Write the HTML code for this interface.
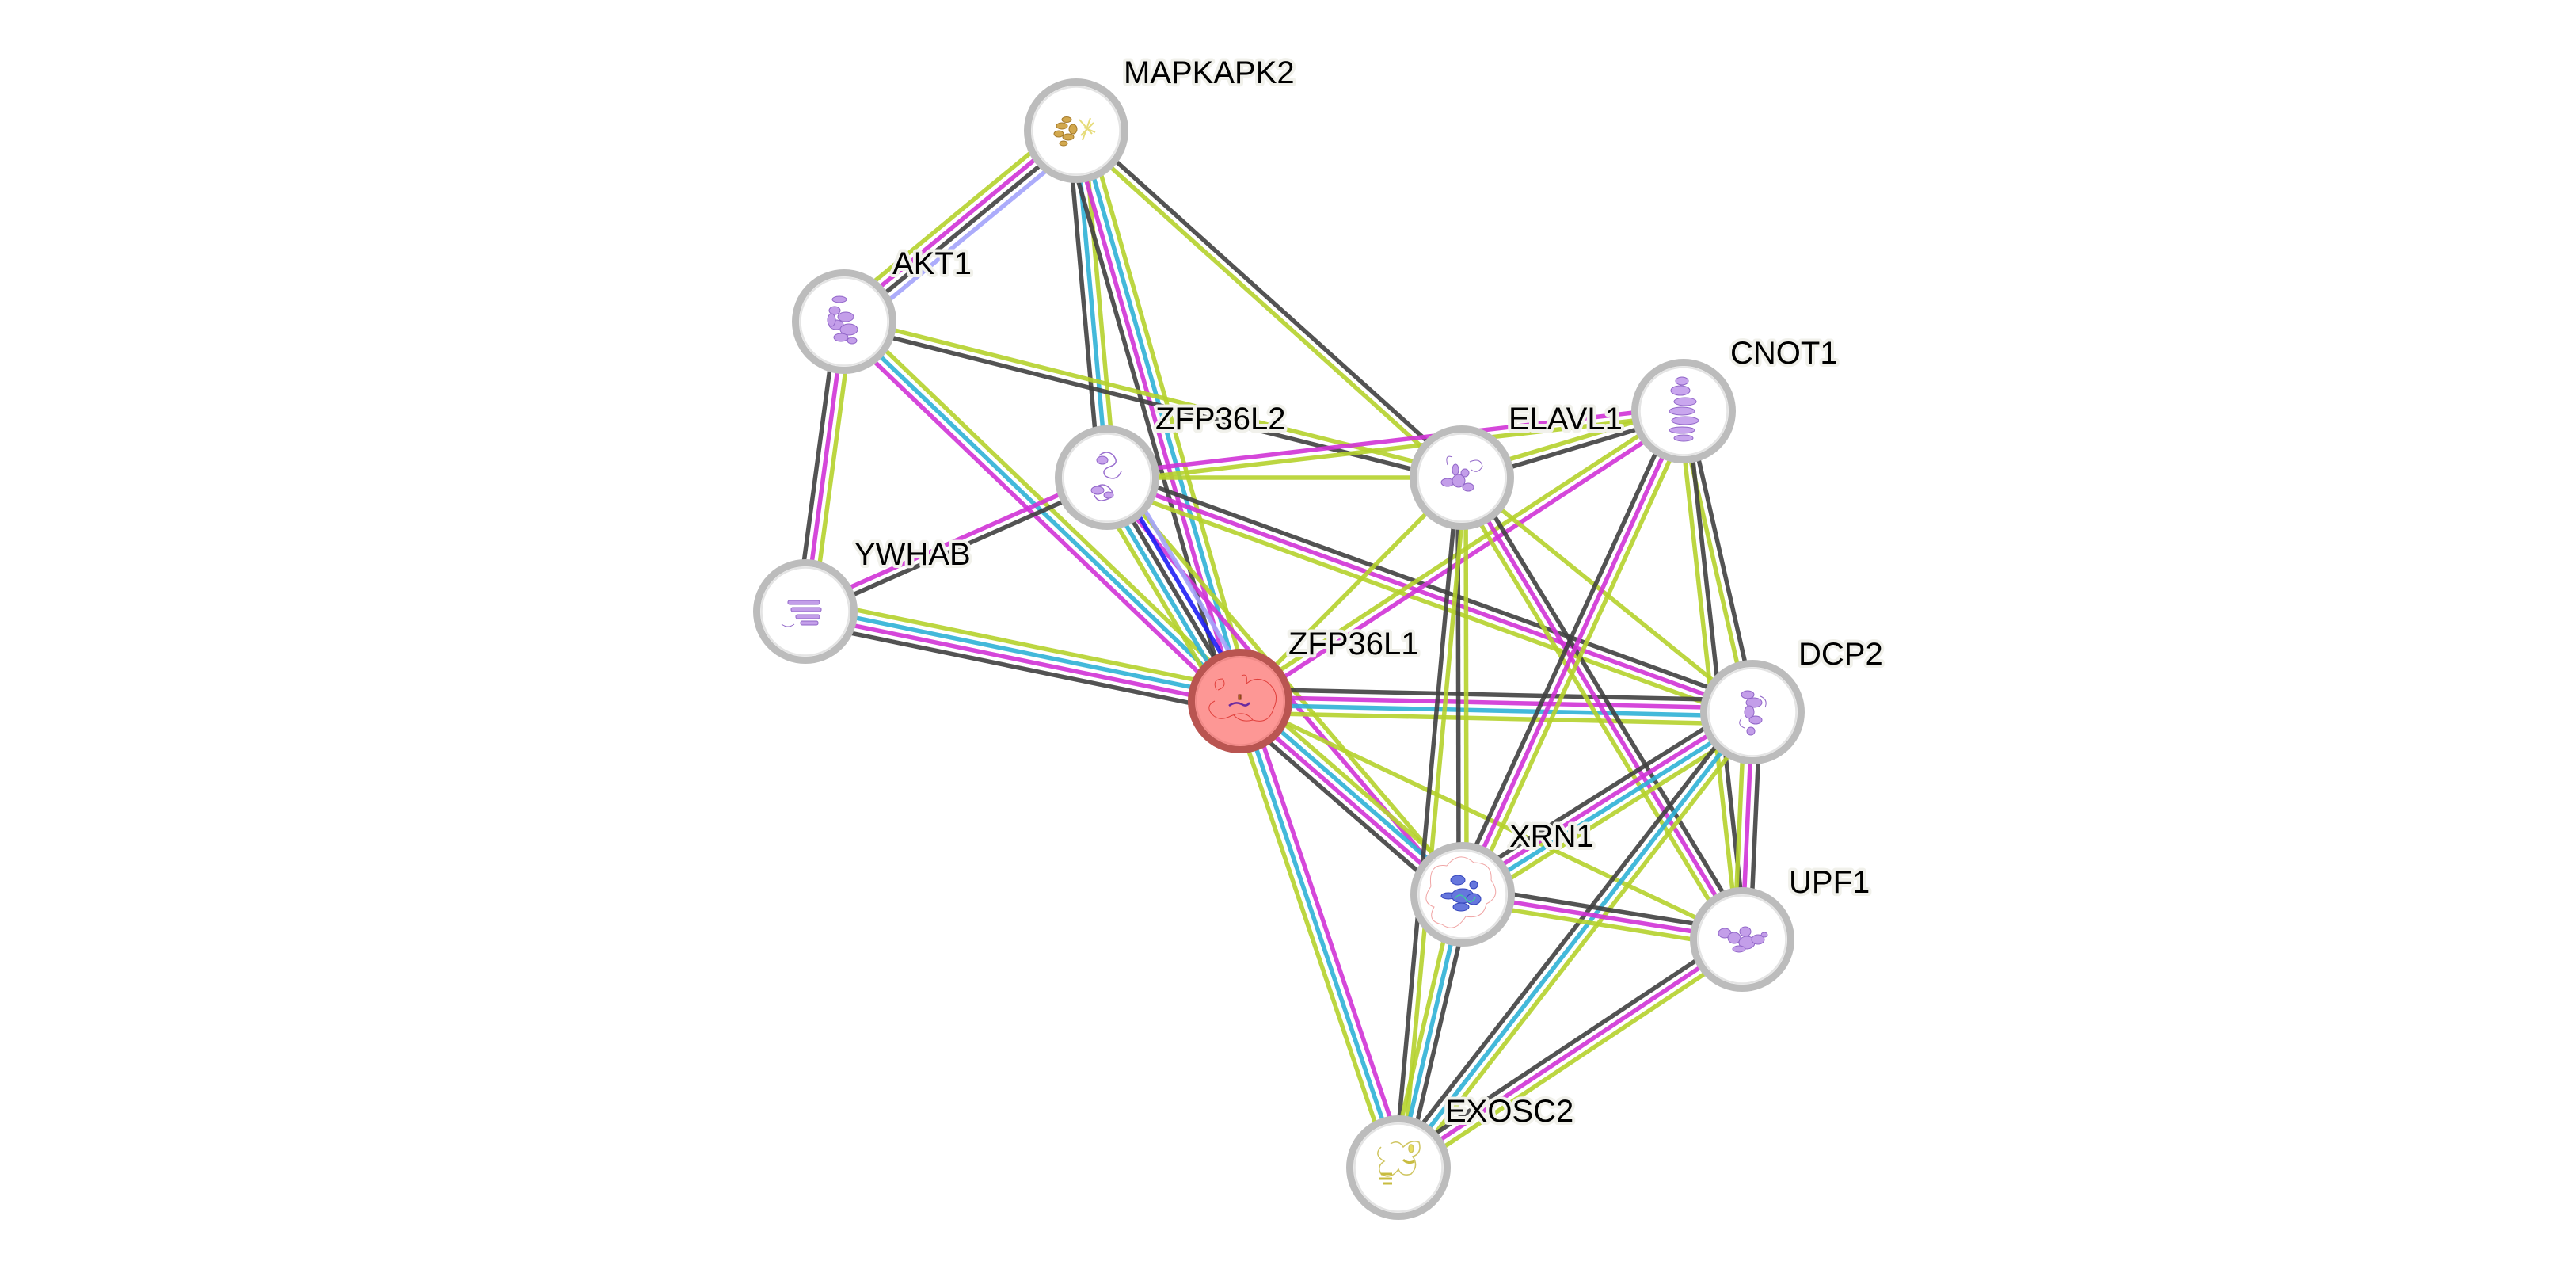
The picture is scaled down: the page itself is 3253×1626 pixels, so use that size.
<!DOCTYPE html>
<html>
<head>
<meta charset="utf-8">
<style>
html,body{margin:0;padding:0;background:#fff;}
svg{display:block;}
.edges path{fill:none;stroke-width:5.5;stroke-opacity:0.9;}
.yg{stroke:#b5d12c;}
.mg{stroke:#d033d6;}
.cy{stroke:#2fb1d6;}
.bk{stroke:#404040;}
.bl{stroke:#1f1ff5;}
.lv{stroke:#a3a3fb;}
.ring{fill:#fff;stroke:#bcbcbc;stroke-width:9;}
.inner{fill:none;stroke:#e4e4e4;stroke-width:2.5;}
.lbl{font-family:"Liberation Sans",Arial,sans-serif;font-size:40px;fill:#000;stroke:#f1f1eb;stroke-width:8;stroke-linejoin:round;paint-order:stroke;}
</style>
</head>
<body>
<svg width="3253" height="1626" viewBox="0 0 3253 1626" xmlns="http://www.w3.org/2000/svg">
<rect width="3253" height="1626" fill="#fff"/>
<g class="edges">
<g transform="matrix(0.772,-0.635,0.635,0.772,1066,406)"><path class="yg" d="M0 -15H379"/><path class="mg" d="M0 -5H379"/><path class="bk" d="M0 5H379"/><path class="lv" d="M0 15H379"/></g>
<g transform="matrix(0.089,0.996,-0.996,0.089,1359,165)"><path class="yg" d="M0 -10H440"/><path class="cy" d="M0 0H440"/><path class="bk" d="M0 10H440"/></g>
<g transform="matrix(0.276,0.961,-0.961,0.276,1359,165)"><path class="yg" d="M0 -15H749"/><path class="cy" d="M0 -5H749"/><path class="mg" d="M0 5H749"/><path class="bk" d="M0 15H749"/></g>
<g transform="matrix(0.744,0.669,-0.669,0.744,1359,165)"><path class="bk" d="M0 -5H655"/><path class="yg" d="M0 5H655"/></g>
<g transform="matrix(-0.133,0.991,-0.991,-0.133,1066,406)"><path class="yg" d="M0 -10H369"/><path class="mg" d="M0 0H369"/><path class="bk" d="M0 10H369"/></g>
<g transform="matrix(0.722,0.692,-0.692,0.722,1066,406)"><path class="yg" d="M0 -10H692"/><path class="cy" d="M0 0H692"/><path class="mg" d="M0 10H692"/></g>
<g transform="matrix(0.970,0.245,-0.245,0.970,1066,406)"><path class="yg" d="M0 -5H804"/><path class="bk" d="M0 5H804"/></g>
<g transform="matrix(0.914,-0.405,0.405,0.914,1017,772)"><path class="mg" d="M0 -5H417"/><path class="bk" d="M0 5H417"/></g>
<g transform="matrix(0.979,0.202,-0.202,0.979,1017,772)"><path class="yg" d="M0 -15H560"/><path class="cy" d="M0 -5H560"/><path class="mg" d="M0 5H560"/><path class="bk" d="M0 15H560"/></g>
<g transform="matrix(1,0,0,1,1398,603)"><path class="yg" d="M0 0H448"/></g>
<g transform="matrix(0.993,-0.115,0.115,0.993,1398,603)"><path class="mg" d="M0 -5H733"/><path class="yg" d="M0 5H733"/></g>
<g transform="matrix(0.940,0.341,-0.341,0.940,1398,603)"><path class="bk" d="M0 -10H867"/><path class="mg" d="M0 0H867"/><path class="yg" d="M0 10H867"/></g>
<g transform="matrix(0.649,0.761,-0.761,0.649,1398,603)"><path class="yg" d="M0 -5H692"/><path class="mg" d="M0 5H692"/></g>
<g transform="matrix(0.512,0.859,-0.859,0.512,1398,603)"><path class="lv" d="M0 -20H328"/><path class="bl" d="M0 -10H328"/><path class="bk" d="M0 0H328"/><path class="cy" d="M0 10H328"/><path class="yg" d="M0 20H328"/></g>
<g transform="matrix(0.705,-0.710,0.710,0.705,1566,885)"><path class="yg" d="M0 0H397"/></g>
<g transform="matrix(0.837,-0.547,0.547,0.837,1566,885)"><path class="yg" d="M0 -5H669"/><path class="mg" d="M0 5H669"/></g>
<g transform="matrix(1,0.022,-0.022,1,1566,885)"><path class="bk" d="M0 -15H647"/><path class="mg" d="M0 -5H647"/><path class="cy" d="M0 5H647"/><path class="yg" d="M0 15H647"/></g>
<g transform="matrix(0.755,0.656,-0.656,0.755,1566,885)"><path class="yg" d="M0 -15H372"/><path class="cy" d="M0 -5H372"/><path class="mg" d="M0 5H372"/><path class="bk" d="M0 15H372"/></g>
<g transform="matrix(0.903,0.429,-0.429,0.903,1566,885)"><path class="yg" d="M0 0H702"/></g>
<g transform="matrix(0.322,0.947,-0.947,0.322,1566,885)"><path class="mg" d="M0 -10H622"/><path class="cy" d="M0 0H622"/><path class="yg" d="M0 10H622"/></g>
<g transform="matrix(0.958,-0.287,0.287,0.958,1846,603)"><path class="yg" d="M0 -5H292"/><path class="bk" d="M0 5H292"/></g>
<g transform="matrix(0.002,1,-1,0.002,1846,603)"><path class="yg" d="M0 -5H526"/><path class="bk" d="M0 5H526"/></g>
<g transform="matrix(-0.091,0.996,-0.996,-0.091,1846,603)"><path class="yg" d="M0 -5H875"/><path class="bk" d="M0 5H875"/></g>
<g transform="matrix(0.778,0.628,-0.628,0.778,1846,603)"><path class="yg" d="M0 0H471"/></g>
<g transform="matrix(0.519,0.855,-0.855,0.519,1846,603)"><path class="bk" d="M0 -10H682"/><path class="mg" d="M0 0H682"/><path class="yg" d="M0 10H682"/></g>
<g transform="matrix(-0.416,0.909,-0.909,-0.416,2126,519)"><path class="yg" d="M0 -10H671"/><path class="mg" d="M0 0H671"/><path class="bk" d="M0 10H671"/></g>
<g transform="matrix(0.223,0.975,-0.975,0.223,2126,519)"><path class="bk" d="M0 -5H390"/><path class="yg" d="M0 5H390"/></g>
<g transform="matrix(0.110,0.994,-0.994,0.110,2126,519)"><path class="bk" d="M0 -5H671"/><path class="yg" d="M0 5H671"/></g>
<g transform="matrix(0.847,-0.532,0.532,0.847,1847,1129)"><path class="bk" d="M0 -15H432"/><path class="mg" d="M0 -5H432"/><path class="cy" d="M0 5H432"/><path class="yg" d="M0 15H432"/></g>
<g transform="matrix(-0.045,0.999,-0.999,-0.045,2213,899)"><path class="bk" d="M0 -10H287"/><path class="mg" d="M0 0H287"/><path class="yg" d="M0 10H287"/></g>
<g transform="matrix(-0.614,0.790,-0.790,-0.614,2213,899)"><path class="yg" d="M0 -10H728"/><path class="cy" d="M0 0H728"/><path class="bk" d="M0 10H728"/></g>
<g transform="matrix(0.987,0.159,-0.159,0.987,1847,1129)"><path class="bk" d="M0 -10H358"/><path class="mg" d="M0 0H358"/><path class="yg" d="M0 10H358"/></g>
<g transform="matrix(-0.229,0.973,-0.973,-0.229,1847,1129)"><path class="bk" d="M0 -10H354"/><path class="cy" d="M0 0H354"/><path class="yg" d="M0 10H354"/></g>
<g transform="matrix(0.833,-0.553,0.553,0.833,1766,1474)"><path class="bk" d="M0 -10H521"/><path class="mg" d="M0 0H521"/><path class="yg" d="M0 10H521"/></g>
</g>

<g>
<circle class="ring" cx="1359" cy="165" r="61.5"/><circle class="inner" cx="1359" cy="165" r="55.5"/>
<g transform="translate(1359,165)">
<g fill="#d2a84e" stroke="#a57a2a" stroke-width="1">
<ellipse cx="-18" cy="-6" rx="7" ry="4"/><ellipse cx="-22" cy="4" rx="6" ry="4"/><ellipse cx="-10" cy="8" rx="7" ry="4"/><ellipse cx="-12" cy="-14" rx="6" ry="3.5"/><ellipse cx="-4" cy="-2" rx="5" ry="6"/><ellipse cx="-16" cy="16" rx="5" ry="3"/>
</g>
<g fill="none" stroke="#e6dc7a" stroke-width="2"><path d="M4 -14 L20 4 M6 6 L22 -10 M10 -4 L24 2 M8 12 L18 -16"/></g>
</g>
<circle class="ring" cx="1066" cy="406" r="61.5"/><circle class="inner" cx="1066" cy="406" r="55.5"/>
<g transform="translate(1066,406)" fill="#c39ee9" stroke="#9166c8" stroke-width="1">
<ellipse cx="-6" cy="-28" rx="9" ry="4"/><ellipse cx="-12" cy="-14" rx="7" ry="5"/><ellipse cx="2" cy="-6" rx="10" ry="6"/><ellipse cx="-10" cy="4" rx="9" ry="6"/><ellipse cx="6" cy="10" rx="11" ry="7"/><ellipse cx="-4" cy="20" rx="9" ry="5"/><ellipse cx="10" cy="24" rx="6" ry="4"/><ellipse cx="-16" cy="-2" rx="5" ry="8"/>
</g>
<circle class="ring" cx="1398" cy="603" r="61.5"/><circle class="inner" cx="1398" cy="603" r="55.5"/>
<g transform="translate(1398,603)">
<path d="M-10 -28 q10 -8 18 0 q8 10 -4 14 q-12 4 -6 12 q14 8 20 -6 M-16 14 q10 -10 20 0 q8 10 -6 14 q-10 4 -14 -6" fill="none" stroke="#9a6fcf" stroke-width="1.5"/>
<ellipse cx="-6" cy="-22" rx="7" ry="5" fill="#c7a2ec" stroke="#9166c8"/><ellipse cx="-12" cy="16" rx="8" ry="5" fill="#c7a2ec" stroke="#9166c8"/><ellipse cx="2" cy="22" rx="6" ry="4" fill="#c7a2ec" stroke="#9166c8"/>
</g>
<circle class="ring" cx="1017" cy="772" r="61.5"/><circle class="inner" cx="1017" cy="772" r="55.5"/>
<g transform="translate(1017,772)" fill="#c39ee9" stroke="#9166c8" stroke-width="1">
<rect x="-22" y="-14" width="40" height="5" rx="2"/><rect x="-18" y="-5" width="38" height="5" rx="2"/><rect x="-12" y="4" width="30" height="5" rx="2"/><rect x="-6" y="12" width="22" height="5" rx="2"/>
<path d="M-30 16 q8 6 16 0" fill="none"/>
</g>
<circle cx="1566" cy="885" r="61.5" fill="#fd9795" stroke="#b95551" stroke-width="9"/>
<circle cx="1566" cy="885" r="55.5" fill="none" stroke="#f08a88" stroke-width="2"/>
<g transform="translate(1566,885)" fill="none" stroke="#e0403c" stroke-width="1">
<path d="M-30 -14 q-6 -14 8 -14 q6 10 -6 14 M2 -32 q8 -4 6 10 q12 -10 26 -2 q18 14 8 34 q-6 20 -26 14 q-10 -14 -30 -4 q-14 6 -22 -4 q-8 -10 4 -16 M-8 18 q10 10 24 6"/>
<path d="M-14 6 q8 -6 16 -2 q6 4 10 -2" stroke="#6a2aa0" stroke-width="2.5"/>
<rect x="-2" y="-8" width="3" height="6" fill="#b06020" stroke="#703010"/>
</g>
<circle class="ring" cx="1846" cy="603" r="61.5"/><circle class="inner" cx="1846" cy="603" r="55.5"/>
<g transform="translate(1846,603)" fill="#c39ee9" stroke="#9166c8" stroke-width="1">
<path d="M-12 -26 q-10 -4 -6 10 M10 -20 q14 -6 16 6 q-6 10 -14 4" fill="none"/>
<ellipse cx="-18" cy="6" rx="8" ry="5"/><ellipse cx="-4" cy="4" rx="8" ry="8"/><ellipse cx="8" cy="12" rx="7" ry="5"/><ellipse cx="-8" cy="-10" rx="4" ry="7"/><ellipse cx="4" cy="-6" rx="5" ry="5"/>
</g>
<circle class="ring" cx="2126" cy="519" r="61.5"/><circle class="inner" cx="2126" cy="519" r="55.5"/>
<g transform="translate(2126,519)" fill="#c9a6ee" stroke="#9166c8" stroke-width="1">
<ellipse cx="-2" cy="-38" rx="8" ry="5"/><ellipse cx="-4" cy="-26" rx="12" ry="6"/><ellipse cx="2" cy="-12" rx="14" ry="5"/><ellipse cx="-2" cy="0" rx="16" ry="5"/><ellipse cx="2" cy="12" rx="17" ry="5"/><ellipse cx="-2" cy="24" rx="16" ry="4"/><ellipse cx="0" cy="34" rx="12" ry="4"/>
</g>
<circle class="ring" cx="2213" cy="899" r="61.5"/><circle class="inner" cx="2213" cy="899" r="55.5"/>
<g transform="translate(2213,899)" fill="#c39ee9" stroke="#9166c8" stroke-width="1">
<ellipse cx="-6" cy="-22" rx="8" ry="5"/><ellipse cx="2" cy="-12" rx="10" ry="6"/><ellipse cx="-4" cy="0" rx="6" ry="8"/><ellipse cx="4" cy="10" rx="8" ry="5"/><ellipse cx="-2" cy="24" rx="5" ry="5"/>
<path d="M10 -20 q10 4 6 14 M-14 8 q-6 8 4 12" fill="none"/>
</g>
<circle class="ring" cx="1847" cy="1129" r="61.5"/><circle class="inner" cx="1847" cy="1129" r="55.5"/>
<g transform="translate(1847,1129)">
<path d="M-40 -10 q-4 -30 20 -26 q16 -20 34 -4 q24 0 22 22 q14 20 -6 30 q-4 20 -26 16 q-14 22 -30 10 q-20 -4 -10 -22 q-18 -6 -4 -26" fill="none" stroke="#f0a4a4" stroke-width="1"/>
<g fill="#6677dd" stroke="#3344bb" stroke-width="1">
<ellipse cx="-6" cy="-18" rx="9" ry="6"/><ellipse cx="-18" cy="2" rx="9" ry="4"/><ellipse cx="0" cy="2" rx="14" ry="9"/><ellipse cx="14" cy="6" rx="9" ry="7"/><ellipse cx="-2" cy="16" rx="10" ry="5"/><ellipse cx="14" cy="-12" rx="5" ry="5"/>
</g>
<path d="M-10 6 q6 -10 14 0 q6 8 12 -2" fill="none" stroke="#40c8a0" stroke-width="1.5"/>
</g>
<circle class="ring" cx="2200" cy="1186" r="61.5"/><circle class="inner" cx="2200" cy="1186" r="55.5"/>
<g transform="translate(2200,1186)" fill="#c39ee9" stroke="#9166c8" stroke-width="1">
<ellipse cx="-22" cy="-8" rx="8" ry="6"/><ellipse cx="-10" cy="-2" rx="8" ry="7"/><ellipse cx="4" cy="-10" rx="7" ry="6"/><ellipse cx="6" cy="4" rx="10" ry="8"/><ellipse cx="20" cy="0" rx="8" ry="6"/><ellipse cx="-4" cy="12" rx="8" ry="4"/><ellipse cx="28" cy="-6" rx="4" ry="3"/>
</g>
<circle class="ring" cx="1766" cy="1474" r="61.5"/><circle class="inner" cx="1766" cy="1474" r="55.5"/>
<g transform="translate(1766,1474)" fill="none" stroke="#cfc560" stroke-width="1.5">
<path d="M-10 -30 q10 -6 16 4 q10 -10 20 -6 q4 14 -8 18 q8 12 -2 22 q-12 4 -16 -6 q-10 14 -22 6 q-6 -10 4 -16 q-14 -8 -4 -18"/>
<path d="M-22 8 h14 M-24 14 h16 M-20 20 h12 M6 -10 q6 6 14 2" stroke="#c8bc40" stroke-width="3"/>
<ellipse cx="16" cy="-24" rx="3" ry="5" fill="#e8de60"/>
</g>
</g>

<g>
<text class="lbl" x="1419" y="105">MAPKAPK2</text>
<text class="lbl" x="1127" y="346">AKT1</text>
<text class="lbl" x="1459" y="542">ZFP36L2</text>
<text class="lbl" x="1079" y="713">YWHAB</text>
<text class="lbl" x="1627" y="826">ZFP36L1</text>
<text class="lbl" x="1905" y="542">ELAVL1</text>
<text class="lbl" x="2185" y="459">CNOT1</text>
<text class="lbl" x="2271" y="839">DCP2</text>
<text class="lbl" x="1906" y="1069">XRN1</text>
<text class="lbl" x="2259" y="1127">UPF1</text>
<text class="lbl" x="1825" y="1416">EXOSC2</text>
</g>
</svg>
</body>
</html>
